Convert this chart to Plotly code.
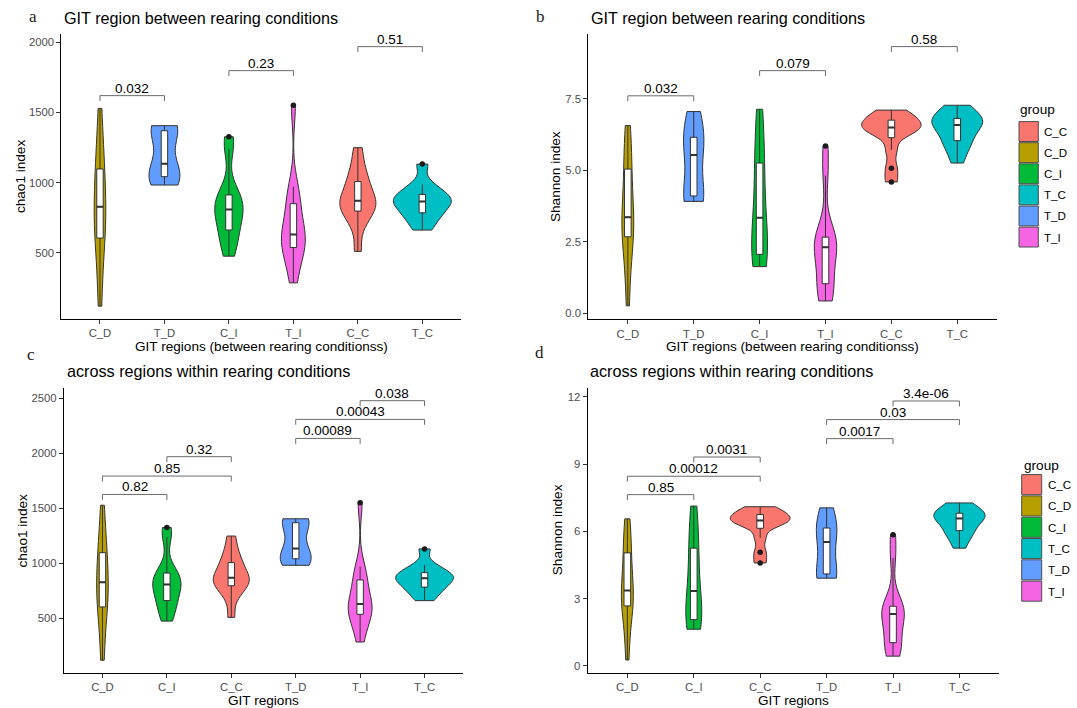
import numpy as np
import plotly.graph_objects as go

W, H = 1077, 708
FONT = "Liberation Sans, Arial, sans-serif"
SERIF = "Liberation Serif, Times New Roman, serif"

# ---------------- data ----------------
GROUPS = ["C_C", "C_D", "C_I", "T_C", "T_D", "T_I"]
COLORS = ["#F8766D", "#B79F00", "#00BA38", "#00BFC4", "#619CFF", "#F564E3"]

ORDER_BETWEEN = ["C_D", "T_D", "C_I", "T_I", "C_C", "T_C"]
ORDER_ACROSS = ["C_D", "C_I", "C_C", "T_D", "T_I", "T_C"]

CHAO1_C_C = [510, 700, 780, 803, 840, 860, 882, 920, 1000, 1030, 1120, 1249]
CHAO1_C_D = [120, 350, 560, 620, 700, 800, 856, 950, 1080, 1150, 1300, 1529]
CHAO1_C_I = [476, 560, 640, 670, 760, 800, 818, 860, 900, 950, 1240, 1327]
CHAO1_T_C = [662, 720, 770, 790, 830, 855, 877, 890, 905, 950, 987, 1132]
CHAO1_T_D = [983, 1020, 1065, 1135, 1360, 1380, 1406]
CHAO1_T_I = [286, 420, 510, 547, 590, 610, 652, 700, 840, 880, 971, 1551]

# Shannon index samples per group
SHANNON_C_C = [4.59, 5.07, 5.71, 6.28, 6.35, 6.45, 6.53, 6.60, 6.72, 6.84, 6.95, 7.10]
SHANNON_C_D = [0.26, 1.50, 2.50, 2.73, 3.00, 3.20, 3.52, 4.00, 5.00, 5.16, 6.00, 6.56]
SHANNON_C_I = [1.63, 1.75, 2.00, 2.08, 2.60, 3.10, 3.58, 4.30, 5.20, 5.40, 6.50, 7.13]
SHANNON_T_C = [5.25, 5.70, 5.95, 6.06, 6.40, 6.50, 6.66, 6.70, 6.78, 6.90, 7.10, 7.27]
SHANNON_T_D = [3.91, 4.05, 4.15, 5.53, 6.00, 6.30, 7.05]
SHANNON_T_I = [0.43, 0.70, 0.95, 1.06, 1.90, 2.20, 2.42, 2.50, 2.64, 2.72, 4.81, 5.85]

# p-value brackets
BR_A_FROM = ["C_D", "C_I", "C_C"]
BR_A_TO = ["T_D", "T_I", "T_C"]
BR_A_Y = [1620, 1798, 1969]
BR_A_P = ["0.032", "0.23", "0.51"]

BR_B_FROM = ["C_D", "C_I", "C_C"]
BR_B_TO = ["T_D", "T_I", "T_C"]
BR_B_Y = [7.60, 8.48, 9.32]
BR_B_P = ["0.032", "0.079", "0.58"]

BR_C_FROM = ["C_D", "C_D", "C_I", "T_D", "T_D", "T_I"]
BR_C_TO = ["C_I", "C_C", "C_C", "T_I", "T_C", "T_C"]
BR_C_Y = [1627, 1794, 1970, 2136, 2309, 2479]
BR_C_P = ["0.82", "0.85", "0.32", "0.00089", "0.00043", "0.038"]

BR_D_FROM = ["C_D", "C_D", "C_I", "T_D", "T_D", "T_I"]
BR_D_TO = ["C_I", "C_C", "C_C", "T_I", "T_C", "T_C"]
BR_D_Y = [7.64, 8.46, 9.32, 10.14, 10.99, 11.82]
BR_D_P = ["0.85", "0.00012", "0.0031", "0.0017", "0.03", "3.4e-06"]

# ---------------- styling ----------------
CHAO1 = dict(zip(GROUPS, [CHAO1_C_C, CHAO1_C_D, CHAO1_C_I, CHAO1_T_C, CHAO1_T_D, CHAO1_T_I]))
SHANNON = dict(zip(GROUPS, [SHANNON_C_C, SHANNON_C_D, SHANNON_C_I, SHANNON_T_C, SHANNON_T_D, SHANNON_T_I]))
COLOR = dict(zip(GROUPS, COLORS))

WIDTH_CHAO1 = {"C_C": 0.56, "C_D": 0.18, "C_I": 0.44, "T_C": 0.9, "T_D": 0.48, "T_I": 0.37}
WIDTH_SHANNON = {"C_C": 0.9, "C_D": 0.18, "C_I": 0.24, "T_C": 0.77, "T_D": 0.31, "T_I": 0.34}


def px(x):
    return x / W


def py(y):
    return 1 - y / H


def nrd0(v):
    v = np.asarray(v, float)
    sd = v.std(ddof=1)
    q1, q3 = np.percentile(v, [25, 75])
    lo = min(sd, (q3 - q1) / 1.34)
    if lo <= 0:
        lo = sd if sd > 0 else 1.0
    return 0.9 * lo * len(v) ** -0.2


def box_stats(v):
    v = np.sort(np.asarray(v, float))
    q1, med, q3 = np.percentile(v, [25, 50, 75])
    iqr = q3 - q1
    lo = v[v >= q1 - 1.5 * iqr].min()
    hi = v[v <= q3 + 1.5 * iqr].max()
    out = v[(v < lo) | (v > hi)]
    return q1, med, q3, lo, hi, out


PANELS = [
    dict(ax="", letter="a", title="GIT region between rearing conditions", order=ORDER_BETWEEN,
         data=CHAO1, widths=WIDTH_CHAO1, br=(BR_A_FROM, BR_A_TO, BR_A_Y, BR_A_P),
         xdom=(61.3, 461.0), ydom=(34.3, 318.5), yrange=(32, 2057),
         tickvals=[500, 1000, 1500, 2000], ticktext=None,
         ytitle="chao1 index", xtitle="GIT regions (between rearing conditionss)",
         letter_xy=(32.5, 17), title_xy=(61.5, 17.5), ytitle_x=20.7, xtitle_y=347),
    dict(ax="2", letter="b", title="GIT region between rearing conditions", order=ORDER_BETWEEN,
         data=SHANNON, widths=WIDTH_SHANNON, br=(BR_B_FROM, BR_B_TO, BR_B_Y, BR_B_P),
         xdom=(588.3, 996.8), ydom=(34.3, 319.0), yrange=(-0.2, 9.75),
         tickvals=[0, 2.5, 5, 7.5], ticktext=["0.0", "2.5", "5.0", "7.5"],
         ytitle="Shannon index", xtitle="GIT regions (between rearing conditionss)",
         letter_xy=(540, 17), title_xy=(589, 17.5), ytitle_x=555.4, xtitle_y=347),
    dict(ax="3", letter="c", title="across regions within rearing conditions", order=ORDER_ACROSS,
         data=CHAO1, widths=WIDTH_CHAO1, br=(BR_C_FROM, BR_C_TO, BR_C_Y, BR_C_P),
         xdom=(63.8, 463.2), ydom=(387.7, 672.5), yrange=(9, 2597),
         tickvals=[500, 1000, 1500, 2000, 2500], ticktext=None,
         ytitle="chao1 index", xtitle="GIT regions",
         letter_xy=(31, 354), title_xy=(64.5, 370.5), ytitle_x=22.4, xtitle_y=700),
    dict(ax="4", letter="d", title="across regions within rearing conditions", order=ORDER_ACROSS,
         data=SHANNON, widths=WIDTH_SHANNON, br=(BR_D_FROM, BR_D_TO, BR_D_Y, BR_D_P),
         xdom=(587.5, 999.3), ydom=(388.0, 672.5), yrange=(-0.3, 12.4),
         tickvals=[0, 3, 6, 9, 12], ticktext=None,
         ytitle="Shannon index", xtitle="GIT regions",
         letter_xy=(539.5, 352.7), title_xy=(588.3, 370.5), ytitle_x=557, xtitle_y=700),
]

LEGENDS = [
    dict(title_xy=(1018.3, 110), key_x=(1019.0, 1038.3), key_top=121.0, key_h=21.1, label_x=1041.7),
    dict(title_xy=(1021.7, 465), key_x=(1021.7, 1041.7), key_top=474.0, key_h=21.3, label_x=1045.7),
]

fig = go.Figure()
annotations = []
shapes = []
layout_axes = {}

axis_common = dict(showline=True, linecolor="black", linewidth=1, ticks="outside", ticklen=4,
                   tickcolor="#333333", tickwidth=1, showgrid=False, zeroline=False,
                   tickfont=dict(family=FONT, size=11.3, color="#4D4D4D"), fixedrange=True)

for p in PANELS:
    xa, ya = "x" + p["ax"], "y" + p["ax"]
    order = p["order"]
    span = p["yrange"][1] - p["yrange"][0]
    tip = 0.019 * span

    for g in order:
        vals = p["data"][g]
        fig.add_trace(go.Violin(
            x=[g] * len(vals), y=vals, xaxis=xa, yaxis=ya, name=g,
            fillcolor=COLOR[g], line=dict(color="#333333", width=1),
            spanmode="hard", bandwidth=nrd0(vals), scalemode="width", width=p["widths"][g],
            points=False, box_visible=False, meanline_visible=False,
            showlegend=False, hoverinfo="skip"))
        q1, med, q3, lo, hi, out = box_stats(vals)
        fig.add_trace(go.Box(
            x=[g], q1=[q1], median=[med], q3=[q3], lowerfence=[lo], upperfence=[hi],
            xaxis=xa, yaxis=ya, width=0.1, fillcolor="white", whiskerwidth=0,
            line=dict(color="#333333", width=1), boxpoints=False,
            showlegend=False, hoverinfo="skip"))
        fig.add_trace(go.Box(
            x=[g], q1=[med], median=[med], q3=[med], lowerfence=[med], upperfence=[med],
            xaxis=xa, yaxis=ya, width=0.1, fillcolor="white", whiskerwidth=0,
            line=dict(color="#333333", width=2), boxpoints=False,
            showlegend=False, hoverinfo="skip"))
        if len(out):
            fig.add_trace(go.Scatter(
                x=[g] * len(out), y=list(out), xaxis=xa, yaxis=ya, mode="markers",
                marker=dict(color="#1a1a1a", size=5.5), showlegend=False, hoverinfo="skip"))

    f_, t_, ys, ps = p["br"]
    for a, b, yb, lab in zip(f_, t_, ys, ps):
        fig.add_trace(go.Scatter(
            x=[a, a, b, b], y=[yb - tip, yb, yb, yb - tip], xaxis=xa, yaxis=ya,
            mode="lines", line=dict(color="#6b6b6b", width=1), showlegend=False, hoverinfo="skip"))
        annotations.append(dict(
            x=(order.index(a) + order.index(b)) / 2, y=yb, xref=xa, yref=ya,
            text=lab, showarrow=False, xanchor="center", yanchor="bottom", yshift=-2,
            font=dict(family=FONT, size=13.5, color="black")))

    key = p["ax"]
    layout_axes["xaxis" + key] = dict(
        axis_common, type="category", categoryorder="array", categoryarray=order,
        range=[-0.6, len(order) - 0.4], domain=[px(p["xdom"][0]), px(p["xdom"][1])],
        anchor=ya)
    yax = dict(axis_common, range=list(p["yrange"]), tickvals=p["tickvals"],
               domain=[py(p["ydom"][1]), py(p["ydom"][0])], anchor=xa)
    if p["ticktext"]:
        yax["ticktext"] = p["ticktext"]
    layout_axes["yaxis" + key] = yax

    # panel letter + title
    annotations.append(dict(x=px(p["letter_xy"][0]), y=py(p["letter_xy"][1]), xref="paper", yref="paper",
                            text=p["letter"], showarrow=False, xanchor="center", yanchor="middle",
                            font=dict(family=SERIF, size=17, color="#222222")))
    annotations.append(dict(x=px(p["title_xy"][0]), y=py(p["title_xy"][1]), xref="paper", yref="paper",
                            text=p["title"], showarrow=False, xanchor="left", yanchor="middle",
                            font=dict(family=FONT, size=16.2, color="black")))
    # axis titles
    annotations.append(dict(x=px(p["ytitle_x"]), y=py((p["ydom"][0] + p["ydom"][1]) / 2),
                            xref="paper", yref="paper", text=p["ytitle"], textangle=-90,
                            showarrow=False, xanchor="center", yanchor="middle",
                            font=dict(family=FONT, size=13.6, color="black")))
    annotations.append(dict(x=px((p["xdom"][0] + p["xdom"][1]) / 2), y=py(p["xtitle_y"]),
                            xref="paper", yref="paper", text=p["xtitle"],
                            showarrow=False, xanchor="center", yanchor="middle",
                            font=dict(family=FONT, size=13.6, color="black")))

# manual ggplot-style legends
for L in LEGENDS:
    annotations.append(dict(x=px(L["title_xy"][0]), y=py(L["title_xy"][1]), xref="paper", yref="paper",
                            text="group", showarrow=False, xanchor="left", yanchor="middle",
                            font=dict(family=FONT, size=13.6, color="black")))
    for i, (g, c) in enumerate(zip(GROUPS, COLORS)):
        top = L["key_top"] + i * L["key_h"]
        shapes.append(dict(type="rect", xref="paper", yref="paper",
                           x0=px(L["key_x"][0]), x1=px(L["key_x"][1]),
                           y0=py(top + L["key_h"] - 0.6), y1=py(top + 0.6),
                           fillcolor=c, line=dict(color="#4d4d4d", width=1)))
        annotations.append(dict(x=px(L["label_x"]), y=py(top + L["key_h"] / 2), xref="paper", yref="paper",
                                text=g, showarrow=False, xanchor="left", yanchor="middle",
                                font=dict(family=FONT, size=11.6, color="black")))

fig.update_layout(
    width=W, height=H, autosize=False,
    margin=dict(l=0, r=0, t=0, b=0),
    paper_bgcolor="white", plot_bgcolor="white",
    showlegend=False, violinmode="overlay", boxmode="overlay",
    annotations=annotations, shapes=shapes,
    **layout_axes)

fig.write_html("out.html")
